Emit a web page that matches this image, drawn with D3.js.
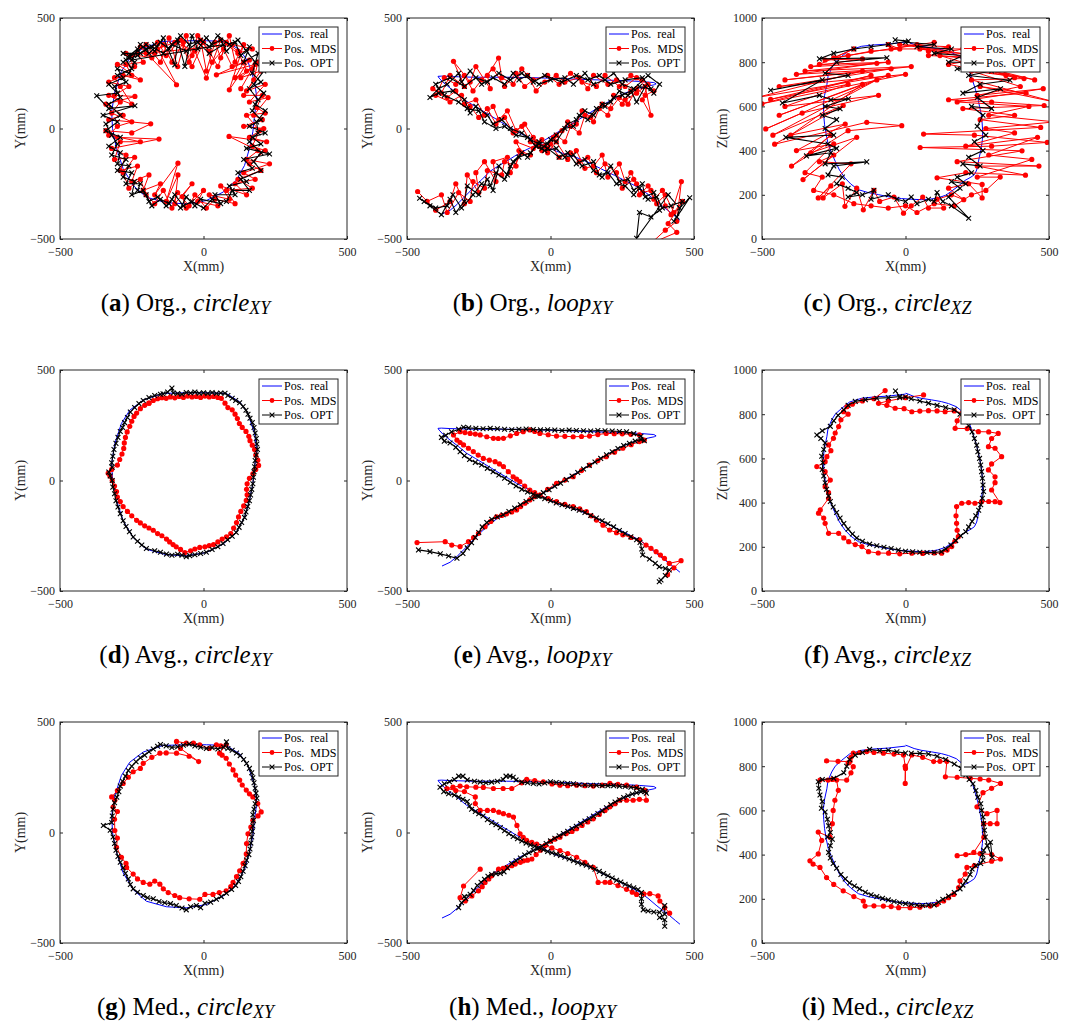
<!DOCTYPE html>
<html lang="en">
<head>
<meta charset="UTF-8">
<title>Trajectories</title>
<style>
  body { margin: 0; background: #fff; }
  text { font-family: "Liberation Serif", "Times New Roman", serif; }
</style>
</head>
<body>
<svg id="chart" width="1070" height="1024"></svg>
<script src="https://d3js.org/d3.v7.min.js"></script>
<script>
// real trajectories (shared by the three rows)
var realCircleXY = [[-141,394],[-60,397],[10,397],[79,394],[126,356],[155,303],[178,212],[186,136],[178,61],[172,-15],[160,-91],[143,-167],[114,-235],[68,-288],[10,-326],[-60,-341],[-129,-336],[-199,-311],[-245,-258],[-280,-182],[-303,-91],[-317,0],[-320,76],[-309,167],[-286,258],[-257,318],[-210,364],[-141,394]];
var realLoop = [[-378,-387],[-350,-370],[-326,-344],[-300,-310],[-269,-269],[-240,-232],[-211,-194],[-180,-168],[-153,-148],[-125,-125],[-95,-103],[-65,-84],[-37,-66],[-8,-43],[21,-20],[50,3],[79,25],[108,48],[136,70],[165,93],[194,115],[223,136],[252,156],[281,171],[310,183],[340,192],[362,198],[368,202],[360,208],[310,213],[250,217],[194,219],[136,221],[79,224],[20,227],[-37,229],[-95,231],[-153,232],[-211,232],[-269,232],[-320,234],[-350,235],[-380,237],[-392,236],[-388,228],[-375,210],[-350,183],[-320,153],[-292,123],[-262,100],[-234,78],[-205,55],[-176,32],[-147,10],[-118,-13],[-89,-32],[-60,-50],[-37,-66],[-8,-85],[21,-103],[50,-115],[79,-126],[108,-140],[136,-156],[165,-175],[194,-194],[223,-212],[252,-231],[281,-250],[310,-269],[340,-298],[368,-329],[390,-352],[414,-375],[435,-398],[451,-415]];
var realCircleXZ = [[0,891],[-60,882],[-110,878],[-153,872],[-195,855],[-222,827],[-245,800],[-257,774],[-270,735],[-274,698],[-282,650],[-286,608],[-285,560],[-282,517],[-276,470],[-269,427],[-258,390],[-245,352],[-230,312],[-211,276],[-190,248],[-164,223],[-130,210],[-95,201],[-55,190],[-14,183],[20,180],[55,178],[85,180],[113,186],[140,198],[160,216],[185,240],[206,264],[228,280],[240,291],[248,312],[252,336],[258,375],[264,412],[268,450],[269,487],[267,525],[264,563],[258,600],[252,638],[244,675],[235,713],[225,750],[212,789],[195,815],[177,834],[150,848],[125,857],[90,865],[55,872],[30,880],[9,891],[0,895]];

// (a) Org., circle XY
var mdsA = [[-250,330],[-200,380],[-150,300],[-120,410],[-90,280],[-60,420],[-40,330],[-10,400],[10,260],[40,390],[60,320],[90,420],[110,300],[140,380],[90,175],[160,310],[45,243],[180,290],[130,230],[200,260],[150,170],[215,200],[160,120],[225,140],[175,60],[205,40],[140,10],[210,0],[160,-40],[220,-60],[89,-36],[190,-100],[150,-140],[230,-160],[140,-200],[180,-230],[110,-250],[150,-300],[60,-260],[90,-320],[20,-300],[50,-350],[-20,-330],[0,-280],[-60,-360],[-74,-308],[-40,-250],[-100,-340],[-89,-210],[-130,-330],[-89,-157],[-170,-300],[-150,-250],[-210,-280],[-190,-210],[-250,-240],[-230,-170],[-290,-190],[-270,-120],[-320,-90],[-155,-48],[-300,-40],[-340,-10],[-250,-20],[-184,21],[-330,40],[-280,60],[-340,110],[-239,145],[-310,150],[-260,190],[-330,210],[-280,240],[-220,220],[-300,290],[-240,280],[-270,340],[-180,320],[-220,370],[-94,198],[-160,360],[-100,390],[-30,350],[10,228],[60,400],[120,340],[170,360],[100,380],
  [-200,340],[-160,390],[-130,330],[-80,400],[-50,300],[-20,420],[20,350],[50,280],[80,390],[120,350],[150,260],[190,300],[175,220],[140,150],[205,150],[185,95],[215,70],[150,60],[195,-10],[170,-80],[215,-100],[160,-160],[200,-190],[120,-230],[170,-270],[80,-280],[110,-340],[40,-320],[10,-360],[-30,-300],[-50,-350],[-90,-290],[-110,-360],[-140,-280],[-170,-340],[-200,-300],[-220,-230],[-260,-270],[-280,-200],[-240,-130],[-310,-140],[-290,-60],[-220,-60],[-330,-30],[-300,10],[-250,30],[-320,70],[-290,120],[-330,150],[-250,110],[-290,190],[-310,230],[-250,240],[-270,290],[-210,300],[-230,340],[-170,340],[-140,380],[-110,300],[-70,390],[-40,280],[0,390],[30,300],[70,360],[100,280],[140,300],[110,230],[170,270],[130,180]];
var optA = [[-260,330],[-230,360],[-280,300],[-200,380],[-170,350],[-140,410],[-100,288],[-90,400],[-65,281],[-40,420],[-20,360],[10,410],[30,380],[60,400],[80,350],[110,390],[130,330],[160,370],[140,300],[190,340],[170,250],[200,210],[160,180],[190,130],[170,80],[200,40],[160,10],[215,-20],[170,-40],[200,-70],[150,-90],[230,-115],[140,-140],[170,-180],[120,-200],[150,-240],[90,-260],[110,-300],[40,-300],[60,-340],[-10,-320],[-30,-350],[-60,-310],[-80,-360],[-110,-320],[-130,-350],[-160,-310],[-190,-330],[-210,-280],[-250,-300],[-240,-240],[-280,-220],[-260,-170],[-300,-160],[-290,-110],[-330,-80],[-290,-40],[-340,-10],[-300,30],[-350,60],[-239,103],[-330,90],[-372,148],[-300,160],[-330,200],[-280,230],[-300,270],[-260,250],[-240,300],[-280,340],[-220,340],[-180,370],[-140,340],[-110,380],[-60,350],[-20,390],[20,340],[70,380],
  [-250,310],[-220,380],[-190,340],[-150,390],[-120,360],[-80,420],[-50,380],[-10,400],[20,370],[50,420],[90,380],[120,400],[150,350],[180,300],[210,260],[175,200],[210,160],[180,110],[215,80],[185,30],[190,-20],[160,-60],[200,-110],[175,-150],[200,-190],[130,-230],[160,-280],[100,-280],[80,-330],[30,-320],[0,-360],[-40,-330],[-70,-350],[-100,-300],[-120,-340],[-150,-320],[-180,-350],[-200,-300],[-230,-280],[-220,-250],[-270,-250],[-250,-200],[-300,-190],[-270,-140],[-320,-120],[-300,-70],[-320,-30],[-340,20],[-290,60],[-330,110],[-290,140],[-310,190],[-270,210],[-300,240],[-250,270],[-270,310],[-230,330],[-200,360],[-170,380]];

// (b) Org., loop XY
var mdsB = [[-463,-285],[-400,-370],[-350,-330],[-330,-250],[-300,-340],[-290,-210],[-250,-290],[-260,-200],[-230,-150],[-190,-240],[-200,-150],[-150,-130],[-140,-200],[-100,-110],[-120,-60],[-60,-90],[-30,-50],[-10,-90],[20,-30],[50,-60],[70,10],[100,-20],[120,60],[150,30],[170,90],[200,60],[220,150],[250,110],[280,170],[260,130],[300,160],[340,200],[320,130],[350,60],[330,190],[300,230],[260,190],[230,220],[200,200],[150,240],[130,180],[100,230],[50,210],[20,240],[-20,210],[-50,170],[-80,240],[-100,270],[-130,200],[-170,230],[-181,319],[-220,240],[-210,180],[-260,280],[-280,210],[-338,304],[-300,190],[-350,240],[-380,160],[-410,180],[-360,140],[-330,170],[-300,110],[-260,130],[-230,60],[-200,100],[-180,40],[-150,80],[-120,-10],[-90,20],[-60,-40],[-40,-80],[-10,-110],[20,-60],[60,-140],[90,-100],[120,-180],[150,-170],[180,-120],[200,-220],[240,-160],[260,-240],[280,-200],[300,-250],[310,-300],[340,-260],[360,-320],[390,-280],[400,-350],[420,-390],[456,-240],[440,-420],[400,-460],[350,-520],
  [440,-470],[410,-430],[460,-330],[430,-380],[400,-300],[370,-340],[350,-280],[320,-290],[290,-230],[250,-270],[230,-200],[190,-160],[160,-200],[130,-130],[100,-150],[70,-110],[30,-130],[0,-70],[-30,-100],[-70,-60],[-100,10],[-130,-20],[-160,50],[-190,20],[-220,90],[-250,50],[-280,100],[-310,150],[-350,120],[-400,150],[-370,230],[-330,200],[-300,240],[-270,170],[-240,220],[-200,270],[-160,190],[-120,250],[-90,190],[-60,220],[-10,240],[30,200],[70,250],[110,210],[160,190],[190,240],[240,190],[280,240],[320,220],[360,170],[330,150],[300,180],[270,110],[240,140],[210,90],[180,110],[140,50],[110,80],[90,20],[60,30],[40,-10],[10,-40],[-20,-80],[-50,-60],[-70,-120],[-110,-100],[-120,-170],[-160,-150],[-170,-210],[-220,-190],[-230,-270],[-270,-240],[-280,-330],[-320,-290],[-360,-380],[-380,-300],[-430,-330]];
var optB = [[-456,-316],[-420,-350],[-380,-390],[-350,-320],[-330,-380],[-300,-330],[-290,-260],[-250,-300],[-220,-230],[-200,-280],[-180,-170],[-150,-210],[-130,-150],[-100,-110],[-80,-130],[-50,-80],[-30,-90],[0,-50],[20,-60],[50,0],[80,10],[100,60],[130,40],[160,90],[190,100],[220,140],[250,150],[280,170],[300,120],[330,190],[360,160],[380,200],[340,240],[290,180],[250,200],[220,250],[190,220],[150,200],[120,250],[80,200],[50,230],[0,220],[-40,200],[-80,240],[-110,220],[-130,250],[-160,200],[-200,230],[-240,200],[-280,260],[-310,210],[-320,250],[-360,200],[-390,180],[-420,140],[-390,160],[-340,170],[-300,130],[-280,70],[-260,100],[-220,60],[-200,20],[-170,40],[-140,0],[-100,-20],[-70,-50],[-40,-70],[-10,-90],[30,-130],[60,-110],[90,-160],[120,-140],[150,-190],[180,-220],[210,-170],[240,-240],[270,-230],[290,-280],[320,-250],[330,-310],[360,-290],[380,-370],[350,-400],[310,-380],[300,-497],[410,-300],[450,-360],[485,-313],[430,-420],
  [440,-400],[460,-330],[420,-350],[390,-360],[370,-310],[340,-320],[310,-270],[290,-300],[260,-260],[230,-250],[200,-200],[170,-210],[150,-150],[110,-170],[80,-120],[50,-130],[20,-90],[-20,-100],[-50,-80],[-80,-40],[-120,-30],[-160,10],[-190,0],[-230,30],[-250,80],[-290,90],[-320,120],[-370,150],[-400,200],[-350,230],[-300,190],[-260,230],[-220,210],[-180,250],[-140,220],[-100,250],[-60,210],[-20,240],[40,210],[90,240],[130,220],[170,240],[210,200],[260,220],[320,230],[350,180],[310,190],[270,150],[240,170],[210,120],[180,110],[150,60],[120,80],[90,40],[60,20],[20,-30],[-10,-70],[-40,-60],[-70,-110],[-110,-130],[-140,-170],[-160,-230],[-190,-200],[-210,-260],[-240,-250],[-270,-300],[-310,-360],[-340,-300],[-360,-350],[-400,-360],[-440,-330]];

// (c) Org., circle XZ
var mdsC = [[-60,880],[-20,860],[-120,850],[-200,830],[-280,810],[-150,815],[-330,780],[-100,795],[-380,745],[-50,770],[-440,690],[0,745],[-500,612],[-120,740],[-470,632],[-200,700],[-420,600],[-94,650],[-360,570],[-487,498],[-100,720],[-462,470],[-217,604],[-456,429],[-135,528],[-13,513],[-200,490],[-397,330],[-260,470],[-330,390],[-170,460],[-357,269],[-250,380],[-300,350],[-190,340],[-304,186],[-260,240],[-287,186],[-220,250],[-211,148],[-170,230],[-147,132],[-110,220],[-90,170],[-40,190],[-7,117],[20,150],[60,190],[80,140],[133,140],[110,180],[160,200],[203,178],[150,230],[220,250],[267,186],[267,247],[110,277],[210,300],[418,289],[250,330],[465,330],[180,350],[406,399],[51,414],[300,420],[494,437],[240,470],[63,475],[471,505],[260,540],[380,560],[200,590],[483,604],[300,620],[150,630],[420,660],[260,690],[520,620],[230,720],[413,726],[300,760],[450,720],[200,800],[380,730],[120,830],[330,800],[50,860],[250,830],[-20,880],[150,870],[80,850],[40,880],
  [-250,820],[-180,860],[-300,790],[-60,800],[-350,760],[20,780],[-420,720],[-150,760],[-520,640],[-60,740],[-440,560],[-150,700],[-400,470],[-210,520],[-380,400],[-250,430],[-350,300],[-290,280],[-320,220],[-250,200],[-180,160],[-120,150],[-60,140],[0,150],[40,120],[100,160],[170,150],[230,200],[280,220],[330,280],[250,280],[440,360],[290,380],[460,460],[210,420],[380,480],[280,500],[520,530],[290,560],[430,600],[180,620],[480,680],[250,650],[400,690],[230,760],[350,740],[150,790],[280,820],[80,830],[200,860],[-50,860],[100,890]];
var optC = [[-36,901],[10,896],[-60,880],[-120,870],[-180,860],[-250,840],[-300,815],[-65,820],[-240,800],[-280,750],[-200,740],[-470,673],[-290,720],[-429,615],[-300,650],[-260,630],[-199,635],[-280,600],[-228,589],[-290,560],[-240,540],[-280,500],[-250,470],[-417,460],[-270,430],[-240,410],[-345,376],[-260,390],[-280,340],[-135,349],[-250,330],[-270,290],[-220,280],[-240,250],[-200,230],[-170,210],[-200,190],[-150,200],[-110,220],[-120,180],[-60,200],[-30,180],[0,170],[20,190],[40,160],[80,180],[100,170],[110,210],[130,170],[160,150],[220,94],[150,190],[190,230],[160,260],[210,250],[180,280],[230,300],[200,340],[260,330],[220,370],[270,400],[240,440],[280,470],[250,510],[270,560],[230,600],[300,590],[250,640],[331,680],[200,660],[260,700],[364,718],[220,740],[300,760],[180,770],[260,800],[150,800],[200,830],[100,840],[160,860],[40,870],[100,880],[0,890]];

// (d) Avg., circle XY
var mdsD = [[-190,350],[-175,362],[-160,370],[-145,375],[-130,372],[-115,378],[-100,374],[-85,380],[-70,376],[-55,382],[-40,378],[-25,380],[-10,376],[5,382],[20,378],[35,380],[50,376],[62,372],[75,350],[85,330],[100,320],[110,300],[118,280],[125,258],[135,240],[148,222],[158,200],[162,180],[170,160],[178,140],[182,115],[189,92],[192,68],[182,50],[172,30],[160,10],[152,-15],[150,-40],[152,-65],[149,-90],[140,-115],[130,-140],[122,-165],[115,-190],[105,-215],[95,-240],[80,-255],[65,-265],[50,-278],[35,-290],[20,-295],[5,-300],[-13,-303],[-30,-310],[-45,-318],[-65,-326],[-80,-312],[-95,-300],[-106,-290],[-118,-278],[-129,-265],[-145,-250],[-160,-240],[-175,-225],[-190,-215],[-205,-205],[-220,-192],[-233,-180],[-250,-160],[-265,-140],[-280,-118],[-290,-95],[-300,-75],[-303,-50],[-310,-25],[-318,0],[-326,20],[-332,33],[-320,50],[-300,70],[-292,95],[-284,120],[-278,145],[-276,170],[-272,195],[-266,220],[-257,245],[-250,268],[-242,290],[-233,305],[-220,325],[-205,340],[-190,350]];
var optD = [[-141,392],[-125,400],[-110,418],[-105,396],[-90,394],[-75,390],[-60,398],[-45,396],[-30,400],[-15,395],[0,397],[15,394],[30,398],[45,394],[60,396],[75,395],[85,385],[100,372],[112,362],[126,352],[138,335],[148,318],[155,300],[162,282],[170,262],[176,240],[180,215],[184,190],[186,165],[188,140],[184,115],[180,90],[178,62],[176,40],[174,15],[172,-15],[168,-40],[164,-65],[160,-92],[154,-118],[148,-142],[143,-167],[133,-190],[124,-212],[114,-235],[100,-252],[84,-268],[68,-285],[50,-300],[30,-312],[10,-325],[-10,-330],[-30,-336],[-48,-340],[-60,-345],[-75,-338],[-90,-334],[-110,-338],[-129,-333],[-150,-325],[-170,-318],[-199,-308],[-215,-292],[-230,-275],[-245,-256],[-258,-232],[-270,-208],[-280,-182],[-290,-150],[-298,-120],[-305,-92],[-310,-60],[-316,-30],[-318,0],[-325,20],[-330,38],[-318,60],[-320,80],[-316,110],[-312,140],[-305,168],[-298,195],[-290,222],[-282,240],[-275,262],[-265,285],[-255,310],[-240,330],[-225,348],[-210,362],[-190,375],[-170,385],[-150,390]];

// (e) Avg., loop XY
var mdsE = [[-465,-281],[-367,-277],[-344,-292],[-315,-299],[-286,-277],[-268,-258],[-251,-239],[-228,-209],[-208,-185],[-188,-164],[-170,-158],[-153,-151],[-135,-142],[-118,-133],[-104,-118],[-89,-103],[-72,-88],[-55,-73],[-37,-66],[-10,-40],[21,-13],[50,2],[79,17],[108,45],[136,70],[165,90],[194,108],[223,128],[252,146],[281,162],[310,176],[327,183],[310,206],[280,209],[250,211],[222,212],[194,213],[165,208],[136,201],[108,199],[79,198],[50,200],[21,201],[-8,207],[-37,213],[-55,222],[-72,229],[-95,221],[-118,213],[-140,202],[-164,191],[-182,190],[-199,191],[-222,198],[-245,206],[-262,210],[-280,213],[-298,217],[-315,221],[-338,206],[-326,183],[-315,172],[-303,161],[-286,146],[-269,131],[-252,115],[-234,100],[-213,92],[-193,85],[-178,75],[-164,63],[-147,40],[-130,17],[-118,6],[-107,-5],[-90,-25],[-72,-43],[-55,-55],[-37,-66],[-8,-82],[21,-96],[50,-108],[79,-118],[102,-128],[125,-141],[142,-160],[160,-179],[183,-202],[206,-224],[230,-236],[252,-246],[281,-258],[310,-269],[333,-292],[350,-307],[368,-322],[383,-337],[397,-352],[414,-375],[455,-363],[430,-395],[408,-427]];
var optE = [[-460,-314],[-420,-322],[-384,-332],[-355,-342],[-326,-352],[-305,-330],[-290,-305],[-275,-282],[-262,-258],[-250,-235],[-238,-210],[-222,-190],[-205,-175],[-185,-165],[-165,-155],[-145,-140],[-125,-125],[-105,-110],[-85,-95],[-65,-82],[-45,-70],[-25,-55],[-5,-42],[15,-26],[35,-12],[55,4],[75,20],[95,36],[115,52],[135,68],[155,84],[175,100],[195,116],[215,130],[235,145],[255,158],[275,168],[295,178],[315,186],[327,180],[315,200],[290,212],[265,220],[240,222],[215,224],[190,225],[165,226],[140,224],[115,225],[90,226],[65,228],[40,226],[15,228],[-10,230],[-35,229],[-60,231],[-85,233],[-110,232],[-135,230],[-160,232],[-185,234],[-210,236],[-235,234],[-260,236],[-285,238],[-303,241],[-320,232],[-345,220],[-365,205],[-380,195],[-370,178],[-350,170],[-330,150],[-315,130],[-300,112],[-282,95],[-262,82],[-240,70],[-220,55],[-200,40],[-180,25],[-160,10],[-140,-8],[-120,-25],[-100,-40],[-80,-52],[-60,-62],[-40,-72],[-20,-82],[0,-92],[20,-102],[40,-110],[60,-118],[80,-126],[100,-135],[120,-145],[140,-158],[160,-170],[180,-182],[200,-196],[220,-210],[240,-226],[260,-240],[280,-255],[300,-268],[312,-280],[318,-310],[321,-337],[345,-355],[365,-375],[379,-390],[400,-398],[414,-405],[400,-430],[385,-450],[379,-458]];

// (f) Avg., circle XZ
var mdsF = [[-71,907],[-110,870],[-150,860],[-185,845],[-204,834],[-216,811],[-200,800],[-225,775],[-233,744],[-245,715],[-251,691],[-268,661],[-260,635],[-274,608],[-280,585],[-309,563],[-280,540],[-262,502],[-280,472],[-268,445],[-268,419],[-297,367],[-303,352],[-285,330],[-280,306],[-268,261],[-233,261],[-215,240],[-198,223],[-175,210],[-152,201],[-129,178],[-95,172],[-59,171],[-20,168],[22,171],[60,170],[100,172],[126,171],[145,185],[161,201],[172,225],[184,246],[180,275],[178,306],[176,340],[178,382],[196,397],[220,400],[242,397],[265,404],[290,405],[312,404],[329,400],[300,457],[312,490],[312,517],[289,548],[300,575],[335,608],[312,646],[289,653],[300,690],[323,713],[290,720],[254,721],[215,735],[173,736],[180,770],[196,804],[170,815],[138,811],[110,815],[80,816],[50,814],[22,811],[-5,825],[-36,827],[-65,840],[-94,849],[-60,860],[0,875],[63,887]];
var optF = [[-35,905],[-20,880],[-60,875],[-100,872],[-140,866],[-175,858],[-200,840],[-215,820],[-235,795],[-250,770],[-262,745],[-290,725],[-309,706],[-295,690],[-280,670],[-285,640],[-292,610],[-288,580],[-290,550],[-285,520],[-280,490],[-275,460],[-268,430],[-262,405],[-252,380],[-240,355],[-228,330],[-215,305],[-200,280],[-185,258],[-170,240],[-150,225],[-125,212],[-100,205],[-75,198],[-50,192],[-25,185],[0,180],[25,177],[50,175],[75,174],[100,174],[125,178],[140,190],[158,208],[175,228],[192,250],[210,268],[220,290],[232,315],[245,340],[255,365],[262,390],[268,420],[272,450],[270,480],[268,510],[265,540],[262,570],[258,600],[252,630],[248,660],[240,690],[232,720],[220,748],[205,775],[190,800],[170,820],[140,830],[110,840],[80,850],[50,860],[20,870],[0,878],[-20,875]];

// (g) Med., circle XY
var mdsG = [[56,359],[79,397],[60,392],[45,397],[20,380],[-13,397],[-35,405],[-60,404],[-94,412],[-80,380],[-17,321],[-50,345],[-94,359],[-130,360],[-152,359],[-180,340],[-210,313],[-220,290],[-245,275],[-262,250],[-280,222],[-300,190],[-320,161],[-309,146],[-315,115],[-300,95],[-310,60],[-309,9],[-300,-25],[-303,-67],[-286,-112],[-270,-140],[-268,-158],[-245,-188],[-230,-210],[-210,-226],[-187,-234],[-170,-220],[-152,-234],[-140,-255],[-123,-272],[-100,-285],[-83,-295],[-50,-300],[-13,-302],[5,-280],[33,-280],[55,-272],[79,-264],[95,-245],[103,-226],[115,-200],[126,-173],[138,-140],[149,-97],[150,-50],[155,-6],[165,25],[172,55],[190,75],[201,93],[189,131],[172,161],[160,175],[149,192],[135,215],[126,237],[112,260],[103,283],[90,310],[79,336],[65,350]];
var optG = [[-150,398],[-130,392],[-110,385],[-90,388],[-70,395],[-50,400],[-30,392],[-10,386],[10,380],[30,384],[50,378],[70,386],[80,410],[85,380],[100,372],[115,360],[128,348],[140,330],[150,312],[160,290],[168,270],[172,248],[176,225],[180,200],[183,178],[186,155],[180,130],[176,105],[172,80],[174,55],[172,30],[170,5],[168,-20],[165,-48],[162,-75],[158,-100],[150,-125],[145,-150],[138,-175],[130,-200],[122,-222],[112,-240],[98,-258],[80,-275],[62,-290],[45,-302],[25,-315],[5,-320],[-10,-340],[-25,-330],[-45,-336],[-60,-350],[-75,-342],[-95,-330],[-115,-322],[-135,-318],[-155,-312],[-175,-300],[-195,-295],[-210,-285],[-230,-270],[-245,-255],[-255,-235],[-262,-210],[-272,-185],[-280,-160],[-290,-135],[-298,-108],[-305,-80],[-310,-50],[-315,-20],[-325,10],[-349,32],[-320,45],[-318,75],[-315,105],[-310,135],[-302,160],[-295,185],[-290,210],[-282,232],[-272,255],[-262,280],[-250,300],[-235,320],[-220,338],[-205,350],[-190,365],[-175,378],[-160,390]];

// (h) Med., loop XY
var mdsH = [[-245,-166],[-303,-242],[-315,-295],[-297,-310],[-274,-287],[-251,-264],[-238,-245],[-228,-226],[-215,-210],[-205,-196],[-181,-166],[-165,-162],[-152,-158],[-135,-150],[-123,-143],[-105,-135],[-94,-128],[-80,-125],[-65,-120],[-50,-100],[-35,-80],[-19,-59],[0,-40],[15,-30],[33,-21],[55,-5],[75,5],[91,17],[110,32],[130,48],[149,62],[170,82],[190,100],[207,116],[225,130],[242,146],[265,146],[288,146],[310,150],[334,146],[329,191],[300,205],[265,214],[235,218],[207,222],[180,215],[149,210],[120,212],[91,214],[60,212],[33,214],[5,220],[-25,229],[-55,235],[-83,240],[-100,225],[-135,199],[-165,199],[-199,199],[-234,204],[-260,205],[-292,207],[-315,210],[-340,205],[-361,199],[-330,190],[-300,185],[-262,161],[-262,131],[-245,100],[-220,100],[-199,100],[-180,92],[-164,85],[-145,78],[-129,70],[-117,32],[-106,-6],[-95,-22],[-83,-36],[-65,-45],[-48,-52],[-19,-59],[5,-70],[33,-82],[60,-95],[91,-112],[120,-135],[149,-158],[166,-226],[190,-225],[207,-226],[235,-240],[265,-257],[285,-270],[300,-280],[325,-278],[346,-277],[375,-287],[381,-310],[398,-340],[415,-365]];
var optH = [[-320,-340],[-310,-318],[-295,-300],[-300,-290],[-280,-280],[-268,-262],[-255,-240],[-242,-225],[-230,-212],[-218,-198],[-205,-190],[-190,-186],[-175,-185],[-162,-178],[-150,-160],[-135,-140],[-120,-128],[-105,-115],[-90,-102],[-75,-92],[-60,-82],[-45,-72],[-30,-62],[-15,-50],[0,-38],[15,-26],[30,-15],[45,-5],[60,5],[75,18],[90,28],[105,40],[120,52],[135,62],[150,74],[165,86],[180,98],[195,112],[210,126],[225,138],[240,148],[255,158],[270,166],[285,174],[300,180],[315,184],[330,186],[334,178],[320,196],[300,202],[280,205],[260,208],[240,210],[220,212],[200,212],[180,212],[160,214],[140,214],[120,215],[100,216],[80,220],[60,222],[40,224],[20,226],[0,230],[-20,224],[-40,220],[-60,222],[-80,225],[-100,228],[-120,238],[-130,250],[-141,255],[-155,255],[-165,240],[-185,232],[-205,228],[-225,225],[-245,228],[-265,232],[-290,238],[-305,255],[-320,255],[-335,240],[-352,230],[-370,220],[-385,205],[-372,185],[-355,175],[-335,170],[-320,160],[-305,150],[-290,140],[-282,120],[-275,105],[-262,95],[-250,85],[-235,75],[-220,58],[-205,45],[-190,35],[-175,22],[-160,8],[-145,-5],[-130,-18],[-115,-28],[-100,-38],[-85,-48],[-70,-56],[-55,-62],[-40,-70],[-25,-78],[-10,-86],[5,-92],[20,-98],[35,-104],[50,-112],[65,-120],[80,-128],[95,-136],[110,-142],[125,-148],[140,-156],[155,-166],[170,-176],[185,-186],[200,-196],[215,-206],[230,-216],[245,-224],[260,-234],[275,-242],[290,-250],[305,-258],[317,-272],[317,-300],[317,-325],[323,-350],[340,-355],[360,-360],[380,-362],[398,-330],[398,-370],[380,-385],[398,-395],[398,-424]];

// (i) Med., circle XZ
var mdsI = [[-275,824],[-235,822],[-193,821],[-190,840],[-182,859],[-160,862],[-135,866],[-110,862],[-77,859],[-40,855],[-7,851],[-1,800],[-1,722],[0,790],[22,851],[60,840],[98,821],[120,822],[144,821],[139,752],[180,750],[226,745],[260,742],[290,737],[331,722],[300,700],[270,680],[249,616],[284,585],[319,600],[319,540],[295,540],[273,540],[273,479],[238,410],[210,400],[180,395],[260,405],[300,400],[331,380],[300,370],[240,350],[214,342],[208,312],[190,281],[185,251],[168,220],[150,205],[133,190],[110,175],[86,167],[50,162],[16,160],[-24,160],[-50,165],[-77,167],[-110,168],[-141,167],[-147,190],[-180,210],[-217,236],[-250,265],[-275,296],[-298,342],[-322,357],[-333,372],[-304,403],[-292,464],[-304,502],[-263,479],[-255,540],[-252,600],[-246,646],[-234,691],[-240,737],[-270,737],[-298,737],[-255,740],[-205,737],[-190,770],[-182,798],[-200,815]];
var optI = [[0,860],[-30,865],[-60,872],[-90,870],[-125,876],[-150,862],[-175,850],[-195,830],[-205,800],[-215,770],[-250,745],[-290,740],[-304,730],[-302,700],[-298,670],[-290,640],[-293,610],[-280,593],[-272,560],[-268,530],[-262,500],[-272,480],[-255,470],[-262,440],[-268,410],[-262,385],[-252,360],[-240,338],[-225,310],[-210,290],[-195,272],[-178,258],[-160,245],[-140,230],[-120,218],[-100,210],[-80,202],[-60,195],[-40,188],[-20,182],[0,178],[20,175],[40,172],[60,170],[80,172],[100,172],[115,185],[130,198],[150,212],[170,228],[190,245],[200,262],[210,280],[225,310],[232,335],[245,350],[262,360],[270,375],[268,400],[272,420],[296,456],[302,388],[285,440],[278,480],[275,510],[272,540],[270,570],[265,600],[262,630],[252,660],[245,690],[235,720],[222,740],[210,760],[195,790],[170,810],[140,830],[110,845],[80,855],[50,858],[20,858]];

var xyTicks = [-500, 0, 500];
var xzTicks = [0, 200, 400, 600, 800, 1000];
var legendNames = ["Pos.  real", "Pos.  MDS", "Pos.  OPT"];

var panels = [
  { key: "a", method: "Org.", shape: "circle", sub: "XY", real: realCircleXY, mds: mdsA, opt: optA },
  { key: "b", method: "Org.", shape: "loop",   sub: "XY", real: realLoop,     mds: mdsB, opt: optB },
  { key: "c", method: "Org.", shape: "circle", sub: "XZ", real: realCircleXZ, mds: mdsC, opt: optC },
  { key: "d", method: "Avg.", shape: "circle", sub: "XY", real: realCircleXY, mds: mdsD, opt: optD },
  { key: "e", method: "Avg.", shape: "loop",   sub: "XY", real: realLoop,     mds: mdsE, opt: optE },
  { key: "f", method: "Avg.", shape: "circle", sub: "XZ", real: realCircleXZ, mds: mdsF, opt: optF },
  { key: "g", method: "Med.", shape: "circle", sub: "XY", real: realCircleXY, mds: mdsG, opt: optG },
  { key: "h", method: "Med.", shape: "loop",   sub: "XY", real: realLoop,     mds: mdsH, opt: optH },
  { key: "i", method: "Med.", shape: "circle", sub: "XZ", real: realCircleXZ, mds: mdsI, opt: optI }
];

var W = 287, H = 221;
var colX = [60, 407, 762];
var rowY = [18, 370, 722];
var axisColor = "#262626";
var serif = '"Liberation Serif", "Times New Roman", serif';

var svg = d3.select("#chart");

function styleAxis(sel, showText) {
  sel.attr("font-family", null).attr("font-size", null);
  sel.select(".domain").remove();
  sel.selectAll(".tick line").attr("stroke", axisColor);
  sel.selectAll(".tick text")
    .attr("fill", axisColor)
    .attr("font-family", serif)
    .attr("font-size", "12px");
  if (!showText) sel.selectAll(".tick text").remove();
}

function xMark(sel) {
  sel.append("path")
    .attr("d", "M-2.4,-2.4L2.4,2.4M-2.4,2.4L2.4,-2.4")
    .attr("stroke", "#000")
    .attr("stroke-width", 1.1);
}

panels.forEach(function(p, i) {
  var col = i % 3, row = Math.floor(i / 3);
  var isXZ = p.sub === "XZ";
  var g = svg.append("g").attr("transform", "translate(" + colX[col] + "," + rowY[row] + ")");

  var x = d3.scaleLinear().domain([-500, 500]).range([0, W]);
  var y = d3.scaleLinear().domain(isXZ ? [0, 1000] : [-500, 500]).range([H, 0]);
  var yTicks = isXZ ? xzTicks : xyTicks;

  g.append("rect").attr("width", W).attr("height", H).attr("fill", "#fff");

  g.append("clipPath").attr("id", "clip-" + p.key)
    .append("rect").attr("width", W).attr("height", H);

  var plot = g.append("g").attr("clip-path", "url(#clip-" + p.key + ")");
  var line = d3.line().x(function(d) { return x(d[0]); }).y(function(d) { return y(d[1]); });

  plot.append("path").datum(p.real)
    .attr("d", line).attr("fill", "none").attr("stroke", "#0000ff").attr("stroke-width", 1);

  plot.append("path").datum(p.mds)
    .attr("d", line).attr("fill", "none").attr("stroke", "#ff0000").attr("stroke-width", 1);
  plot.selectAll(".mds").data(p.mds).enter().append("circle")
    .attr("class", "mds")
    .attr("cx", function(d) { return x(d[0]); })
    .attr("cy", function(d) { return y(d[1]); })
    .attr("r", 2.6)
    .attr("fill", "#ff0000");

  plot.append("path").datum(p.opt)
    .attr("d", line).attr("fill", "none").attr("stroke", "#000").attr("stroke-width", 1.1);
  plot.selectAll(".opt").data(p.opt).enter().append("g")
    .attr("class", "opt")
    .attr("transform", function(d) { return "translate(" + x(d[0]) + "," + y(d[1]) + ")"; })
    .call(xMark);

  // axes, ticks pointing inwards on all four sides
  g.append("g").attr("transform", "translate(0," + H + ")")
    .call(d3.axisBottom(x).tickValues(xyTicks).tickFormat(d3.format("d")).tickSizeInner(-3).tickSizeOuter(0).tickPadding(8))
    .call(styleAxis, true);
  g.append("g")
    .call(d3.axisTop(x).tickValues(xyTicks).tickSizeInner(-3).tickSizeOuter(0))
    .call(styleAxis, false);
  g.append("g")
    .call(d3.axisLeft(y).tickValues(yTicks).tickFormat(d3.format("d")).tickSizeInner(-3).tickSizeOuter(0).tickPadding(5))
    .call(styleAxis, true);
  g.append("g").attr("transform", "translate(" + W + ",0)")
    .call(d3.axisRight(y).tickValues(yTicks).tickSizeInner(-3).tickSizeOuter(0))
    .call(styleAxis, false);

  g.append("rect").attr("width", W).attr("height", H)
    .attr("fill", "none").attr("stroke", axisColor).attr("stroke-width", 1);

  g.append("text")
    .attr("x", W / 2).attr("y", H + 32)
    .attr("text-anchor", "middle")
    .attr("font-size", "14px").attr("fill", axisColor)
    .text("X(mm)");
  g.append("text")
    .attr("transform", "translate(-35," + (H / 2) + ") rotate(-90)")
    .attr("text-anchor", "middle")
    .attr("font-size", "14px").attr("fill", axisColor)
    .text(isXZ ? "Z(mm)" : "Y(mm)");

  // legend
  var lg = g.append("g").attr("transform", "translate(" + (W - 88) + ",9)");
  lg.append("rect").attr("width", 79).attr("height", 45)
    .attr("fill", "#fff").attr("stroke", axisColor).attr("stroke-width", 1);
  var colors = ["#0000ff", "#ff0000", "#000"];
  legendNames.forEach(function(name, k) {
    var ly = 7 + k * 14.5;
    lg.append("line").attr("x1", 3).attr("x2", 23).attr("y1", ly).attr("y2", ly)
      .attr("stroke", colors[k]).attr("stroke-width", 1);
    if (k === 1) lg.append("circle").attr("cx", 13).attr("cy", ly).attr("r", 2.4).attr("fill", "#ff0000");
    if (k === 2) lg.append("g").attr("transform", "translate(13," + ly + ")").call(xMark);
    lg.append("text").attr("x", 25).attr("y", ly + 4)
      .attr("font-size", "12px").attr("fill", "#000")
      .style("white-space", "pre")
      .text(name);
  });

  // caption
  var cap = svg.append("text")
    .attr("x", colX[col] + W / 2 - 18)
    .attr("y", rowY[row] + 293)
    .attr("text-anchor", "middle")
    .attr("font-size", "25px").attr("fill", "#000");
  cap.append("tspan").text("(");
  cap.append("tspan").attr("font-weight", "bold").text(p.key);
  cap.append("tspan").text(") " + p.method + ", ");
  cap.append("tspan").attr("font-style", "italic").text(p.shape);
  cap.append("tspan").attr("font-style", "italic").attr("font-size", "18px").attr("dy", 3).text(p.sub);
});
</script>
</body>
</html>
